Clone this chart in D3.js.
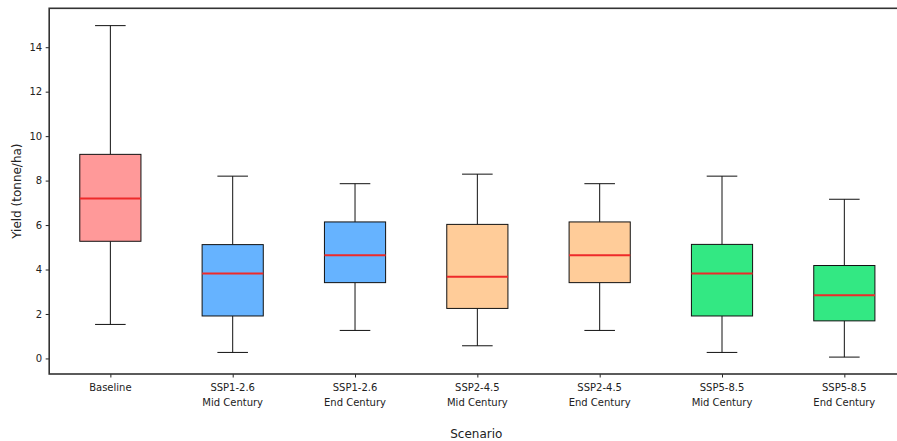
<!DOCTYPE html>
<html>
<head>
<meta charset="utf-8">
<script src="https://d3js.org/d3.v7.min.js"></script>
<style type="text/css">
body {margin:0;background:#fff;}
svg {font-family:"DejaVu Sans", sans-serif;}
</style>
</head>
<body>
<svg id="chart" width="897" height="441"></svg>
<script type="text/javascript">
// scenario labels (two lines each)
var labels = [
	["Baseline"],
	["SSP1-2.6", "Mid Century"],
	["SSP1-2.6", "End Century"],
	["SSP2-4.5", "Mid Century"],
	["SSP2-4.5", "End Century"],
	["SSP5-8.5", "Mid Century"],
	["SSP5-8.5", "End Century"]
];
// box stats
var whiskerLow  = [1.53, 0.27, 1.26, 0.57, 1.26, 0.27, 0.06];
var q1          = [5.27, 1.91, 3.41, 2.25, 3.41, 1.91, 1.69];
var median      = [7.19, 3.82, 4.64, 3.67, 4.64, 3.82, 2.84];
var q3          = [9.18, 5.12, 6.14, 6.03, 6.14, 5.13, 4.18];
var whiskerHigh = [14.97, 8.20, 7.86, 8.29, 7.86, 8.20, 7.16];
var colors = ["#ff9999", "#66b3ff", "#66b3ff", "#ffcc99", "#ffcc99", "#33e883", "#33e883"];
var yTicks = [0, 2, 4, 6, 8, 10, 12, 14];

var svg = d3.select("#chart");
var mLeft = 49.2, mTop = 8.3, mBottom = 374, mRight = 905.5;

var x = d3.scaleLinear().domain([0.5, 7.5]).range([mLeft, mRight]);
var y = d3.scaleLinear().domain([-0.7, 15.75]).range([mBottom, mTop]);
var step = x(2) - x(1);

var g = svg.append("g");

labels.forEach(function(lab, i) {
	var cx = x(i + 1);
	var bw = step * 0.5, cw = step * 0.25;
	// whiskers
	g.append("line").attr("x1", cx).attr("x2", cx)
		.attr("y1", y(whiskerLow[i])).attr("y2", y(q1[i]))
		.attr("stroke", "#111").attr("stroke-width", 1);
	g.append("line").attr("x1", cx).attr("x2", cx)
		.attr("y1", y(q3[i])).attr("y2", y(whiskerHigh[i]))
		.attr("stroke", "#111").attr("stroke-width", 1);
	// caps
	[whiskerLow[i], whiskerHigh[i]].forEach(function(v) {
		g.append("line").attr("x1", cx - cw / 2).attr("x2", cx + cw / 2)
			.attr("y1", y(v)).attr("y2", y(v))
			.attr("stroke", "#111").attr("stroke-width", 1);
	});
	// box
	g.append("rect")
		.attr("x", cx - bw / 2).attr("width", bw)
		.attr("y", y(q3[i])).attr("height", y(q1[i]) - y(q3[i]))
		.attr("fill", colors[i]).attr("stroke", "#111").attr("stroke-width", 1);
	// median
	g.append("line").attr("x1", cx - bw / 2).attr("x2", cx + bw / 2)
		.attr("y1", y(median[i])).attr("y2", y(median[i]))
		.attr("stroke", "#ee2a2a").attr("stroke-width", 2);
});

// y axis
var yAxis = svg.append("g").attr("transform", "translate(" + mLeft + ",0)")
	.call(d3.axisLeft(y).tickValues(yTicks).tickSize(3.5).tickPadding(3.5));
yAxis.select(".domain").remove();
yAxis.selectAll("text").attr("font-size", 10).attr("fill", "#222")
	.attr("font-family", "DejaVu Sans");
yAxis.selectAll("line").attr("stroke", "#222");

// x axis
var xAxis = svg.append("g").attr("transform", "translate(0," + mBottom + ")")
	.call(d3.axisBottom(x).tickValues(d3.range(1, 8)).tickSize(3.5).tickFormat(""));
xAxis.select(".domain").remove();
xAxis.selectAll("line").attr("stroke", "#222");

labels.forEach(function(lab, i) {
	var t = svg.append("text").attr("x", x(i + 1)).attr("y", mBottom + 17)
		.attr("text-anchor", "middle").attr("font-size", 10).attr("fill", "#222");
	lab.forEach(function(s, k) {
		t.append("tspan").attr("x", x(i + 1)).attr("dy", k === 0 ? 0 : 14.5).text(s);
	});
});

// frame
svg.append("rect").attr("x", mLeft).attr("y", mTop)
	.attr("width", mRight - mLeft).attr("height", mBottom - mTop)
	.attr("fill", "none").attr("stroke", "#333").attr("stroke-width", 1.6);

// axis titles
svg.append("text").attr("x", (mLeft + mRight) / 2 - 1).attr("y", 438)
	.attr("text-anchor", "middle").attr("font-size", 12).attr("fill", "#222")
	.text("Scenario");
svg.append("text").attr("transform", "translate(21," + ((mTop + mBottom) / 2) + ") rotate(-90)")
	.attr("text-anchor", "middle").attr("font-size", 12).attr("fill", "#222")
	.text("Yield (tonne/ha)");
</script>
</body>
</html>
